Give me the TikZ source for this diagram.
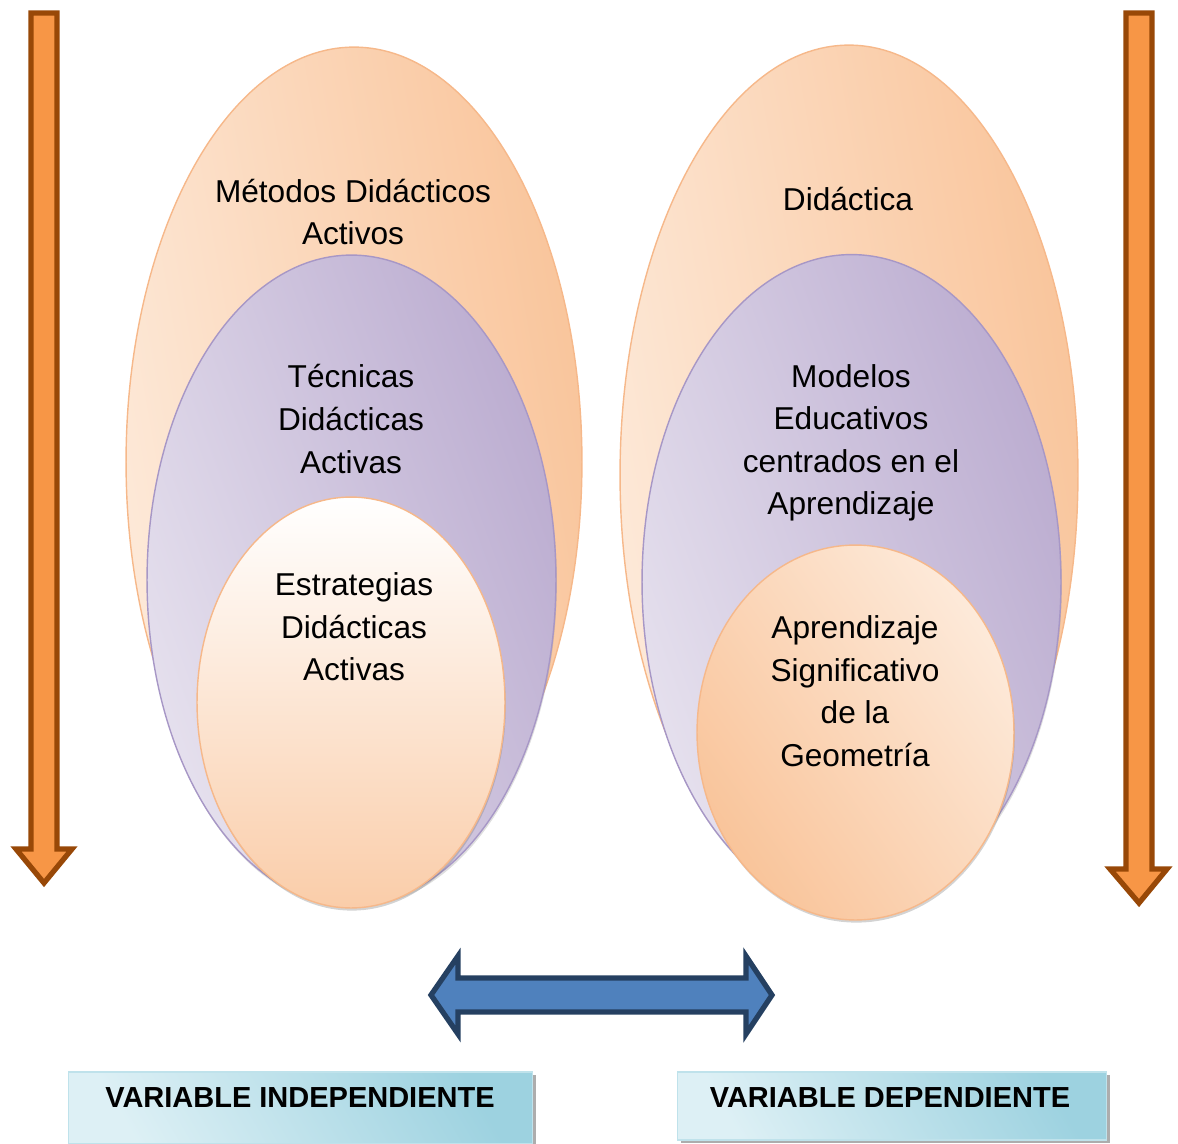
\documentclass[tikz,border=0pt]{standalone}
\usepackage{fontspec}
\setmainfont{Liberation Sans}
\usetikzlibrary{shapes.geometric, shadows}

\definecolor{flechaNaranja}{HTML}{F79646}
\definecolor{bordeNaranja}{HTML}{984807}
\definecolor{flechaAzul}{HTML}{4F81BD}
\definecolor{bordeAzul}{HTML}{254061}
\definecolor{naranjaClaro}{HTML}{FDEADA}
\definecolor{naranjaMedio}{HTML}{F9C49A}
\definecolor{lineaNaranja}{HTML}{F6B88A}
\definecolor{lilaClaro}{HTML}{E6E1EE}
\definecolor{lilaOscuro}{HTML}{BBACD0}
\definecolor{lineaLila}{HTML}{A797C6}
\definecolor{cianClaro}{HTML}{DDF0F5}
\definecolor{cianOscuro}{HTML}{9DD2E0}
\definecolor{lineaCian}{HTML}{BFE2EB}

\begin{document}
\begin{tikzpicture}[x=0.02cm, y=-0.02cm,
    texto/.style={align=center, font=\fontsize{18}{24.2}\selectfont},
    capa/.style={ellipse, inner sep=0pt, line width=0.8pt},
    externa/.style={capa, draw=lineaNaranja, left color=naranjaClaro, right color=naranjaMedio, shading angle=100},
    media/.style={capa, draw=lineaLila, left color=lilaClaro, right color=lilaOscuro, shading angle=110,
        drop shadow={shadow xshift=0.5pt, shadow yshift=-1.5pt, opacity=0.25}},
    interna/.style={capa, draw=lineaNaranja,
        drop shadow={shadow xshift=0.5pt, shadow yshift=-1.5pt, opacity=0.35}},
    bajada/.style={draw=bordeNaranja, fill=flechaNaranja, line width=3pt},
    varbox/.style={rectangle, draw=lineaCian, line width=0.6pt, left color=cianClaro, right color=cianOscuro,
        shading angle=120, inner sep=0pt,
        drop shadow={shadow xshift=2pt, shadow yshift=-1.5pt, fill=gray!80, opacity=0.8}},
    vartext/.style={font=\fontsize{16.5}{20}\selectfont\bfseries}]
    \useasboundingbox (0,0) rectangle (1178,1144);

    % flechas verticales
    \draw[bajada] (31,13) -- (57,13) -- (57,849) -- (72,849) -- (44,883) -- (16,849) -- (31,849) -- cycle;
    \draw[bajada] (1126,13) -- (1152,13) -- (1152,869) -- (1167,869) -- (1139,903) -- (1110,869) -- (1126,869) -- cycle;

    % variable independiente
    \node[externa, minimum width=9.12cm, minimum height=16.6cm] (metodos) at (354,462) {};
    \node[media, minimum width=8.18cm, minimum height=13cm] (tecnicas) at (351.5,580) {};
    \node[interna, top color=white, bottom color=naranjaMedio!85, minimum width=6.16cm, minimum height=8.22cm] (estrategias) at (351,702.5) {};
    \node[texto] (metodosT) at (353,212) {Métodos Didácticos\\Activos};
    \node[texto] (tecnicasT) at (351,419) {Técnicas\\Didácticas\\Activas};
    \node[texto] (estrategiasT) at (354,627) {Estrategias\\Didácticas\\Activas};

    % variable dependiente
    \node[externa, minimum width=9.16cm, minimum height=17.2cm] (didactica) at (849,475) {};
    \node[media, minimum width=8.38cm, minimum height=13.1cm] (modelos) at (851.5,582) {};
    \node[interna, left color=naranjaMedio, right color=naranjaClaro, shading angle=125, minimum width=6.34cm, minimum height=7.5cm] (aprendizaje) at (855.5,732.5) {};
    \node[texto] (didacticaT) at (848,199) {Didáctica};
    \node[texto] (modelosT) at (851,443) {Modelos\\Educativos\\centrados en el\\Aprendizaje};
    \node[texto] (aprendizajeT) at (855,691) {Aprendizaje\\Significativo\\de la\\Geometría};

    % relacion
    \draw[draw=bordeAzul, fill=flechaAzul, line width=3pt]
        (431,995) -- (458,956) -- (458,978) -- (746,978) -- (746,956) -- (772,995)
        -- (746,1034) -- (746,1012) -- (458,1012) -- (458,1034) -- cycle;

    % cajas
    \node[varbox, minimum width=9.3cm, minimum height=1.44cm] (vi) at (300.5,1108) {};
    \node[vartext] (viT) at (300,1098) {VARIABLE INDEPENDIENTE};
    \node[varbox, minimum width=8.6cm, minimum height=1.36cm] (vd) at (892,1106) {};
    \node[vartext] (vdT) at (890,1098) {VARIABLE DEPENDIENTE};
\end{tikzpicture}
\end{document}
